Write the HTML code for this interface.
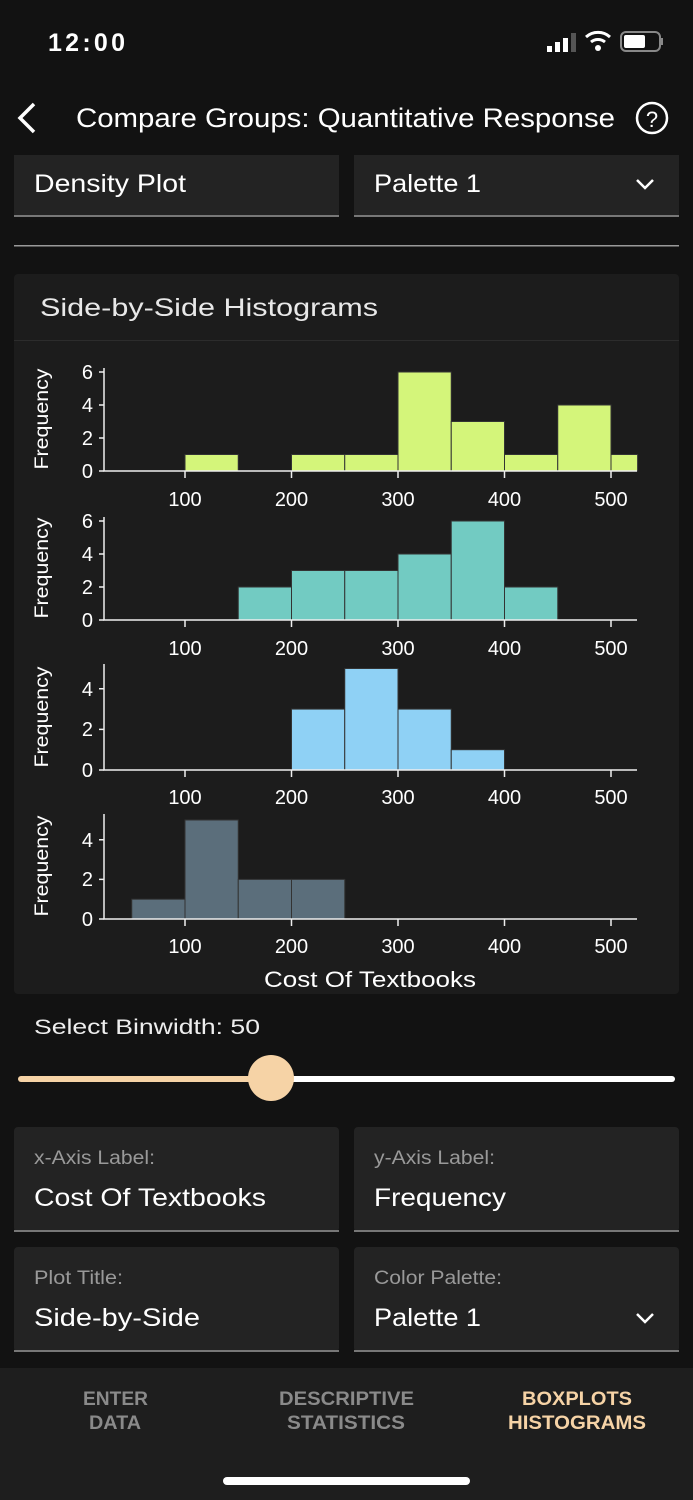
<!DOCTYPE html>
<html><head><meta charset="utf-8"><style>
html,body{margin:0;padding:0;background:#121212;}
svg{display:block;font-family:"Liberation Sans",sans-serif;}
</style></head><body>
<svg width="693" height="1500" viewBox="0 0 693 1500" xmlns="http://www.w3.org/2000/svg">
<rect width="693" height="1500" fill="#121212"/>
<!-- status bar -->
<text x="48" y="51" fill="#fff" font-size="25" font-weight="bold" textLength="77">12:00</text>
<rect x="547" y="46" width="5" height="6" fill="#fff"/><rect x="555" y="42" width="5" height="10" fill="#fff"/><rect x="563" y="38" width="5" height="14" fill="#fff"/><rect x="571" y="33" width="5" height="19" fill="#555"/>
<path d="M586 37 a18 18 0 0 1 24 0" stroke="#fff" stroke-width="3" fill="none"/><path d="M591 42 a11 11 0 0 1 14 0" stroke="#fff" stroke-width="3" fill="none"/><circle cx="598" cy="48" r="3" fill="#fff"/>
<rect x="621" y="32" width="39" height="19" rx="5" fill="none" stroke="#888" stroke-width="2"/><rect x="624" y="35" width="21" height="13" rx="2" fill="#fff"/><rect x="661" y="38" width="2" height="7" fill="#888"/>
<!-- header -->
<path d="M34 104 L20 118 L34 132" stroke="#fff" stroke-width="3.5" fill="none"/>
<text x="76" y="127" fill="#fff" font-size="27" textLength="539" lengthAdjust="spacingAndGlyphs">Compare Groups: Quantitative Response</text>
<circle cx="652" cy="118" r="15" fill="none" stroke="#fff" stroke-width="2.5"/><text x="652" y="127" fill="#fff" font-size="22" text-anchor="middle">?</text>
<!-- top fields -->
<rect x="14" y="155" width="325" height="62" fill="#232323"/><rect x="14" y="215" width="325" height="2" fill="#777"/>
<text x="34" y="192" fill="#fff" font-size="25" textLength="152" lengthAdjust="spacingAndGlyphs">Density Plot</text>
<rect x="354" y="155" width="325" height="62" fill="#232323"/><rect x="354" y="215" width="325" height="2" fill="#777"/>
<text x="374" y="192" fill="#fff" font-size="25" textLength="107" lengthAdjust="spacingAndGlyphs">Palette 1</text>
<path d="M637 180 L645 188 L653 180" stroke="#fff" stroke-width="2.5" fill="none"/>
<rect x="14" y="245" width="665" height="1.5" fill="#999"/>
<!-- card -->
<rect x="14" y="274" width="665" height="720" rx="4" fill="#1c1c1c"/>
<text x="40" y="316" fill="#e8e8e8" font-size="25" textLength="338" lengthAdjust="spacingAndGlyphs">Side-by-Side Histograms</text>
<rect x="14" y="340" width="665" height="1" fill="#2c2c2c"/>
<g font-size="20" fill="#fff">
<!-- Chart 1 -->
<g stroke="#333" stroke-width="1" fill="#d4f57a">
<rect x="185" y="454.5" width="53.25" height="16.5"/><rect x="291.5" y="454.5" width="53.25" height="16.5"/><rect x="344.75" y="454.5" width="53.25" height="16.5"/><rect x="398" y="372" width="53.25" height="99"/><rect x="451.25" y="421.5" width="53.25" height="49.5"/><rect x="504.5" y="454.5" width="53.25" height="16.5"/><rect x="557.75" y="405" width="53.25" height="66"/><rect x="611" y="454.5" width="26.6" height="16.5"/>
</g>
<g stroke="#eee" stroke-width="1.5" fill="none"><path d="M104 368 V471 H637"/><path d="M99 471H104M99 438H104M99 405H104M99 372H104"/><path d="M185 471v7M291.5 471v7M398 471v7M504.5 471v7M611 471v7"/></g>
<g text-anchor="end"><text x="93" y="478">0</text><text x="93" y="445">2</text><text x="93" y="412">4</text><text x="93" y="379">6</text></g>
<g text-anchor="middle"><text x="185" y="506">100</text><text x="291.5" y="506">200</text><text x="398" y="506">300</text><text x="504.5" y="506">400</text><text x="611" y="506">500</text></g>
<text transform="translate(48,419) rotate(-90)" text-anchor="middle" font-size="19" textLength="101" lengthAdjust="spacingAndGlyphs">Frequency</text>
<!-- Chart 2 -->
<g stroke="#333" stroke-width="1" fill="#72cbc2">
<rect x="238.25" y="587" width="53.25" height="33"/><rect x="291.5" y="570.5" width="53.25" height="49.5"/><rect x="344.75" y="570.5" width="53.25" height="49.5"/><rect x="398" y="554" width="53.25" height="66"/><rect x="451.25" y="521" width="53.25" height="99"/><rect x="504.5" y="587" width="53.25" height="33"/>
</g>
<g stroke="#eee" stroke-width="1.5" fill="none"><path d="M104 517 V620 H637"/><path d="M99 620H104M99 587H104M99 554H104M99 521H104"/><path d="M185 620v7M291.5 620v7M398 620v7M504.5 620v7M611 620v7"/></g>
<g text-anchor="end"><text x="93" y="627">0</text><text x="93" y="594">2</text><text x="93" y="561">4</text><text x="93" y="528">6</text></g>
<g text-anchor="middle"><text x="185" y="655">100</text><text x="291.5" y="655">200</text><text x="398" y="655">300</text><text x="504.5" y="655">400</text><text x="611" y="655">500</text></g>
<text transform="translate(48,568) rotate(-90)" text-anchor="middle" font-size="19" textLength="101" lengthAdjust="spacingAndGlyphs">Frequency</text>
<!-- Chart 3 -->
<g stroke="#333" stroke-width="1" fill="#8fd1f5">
<rect x="291.5" y="709.1" width="53.25" height="60.9"/><rect x="344.75" y="668.5" width="53.25" height="101.5"/><rect x="398" y="709.1" width="53.25" height="60.9"/><rect x="451.25" y="749.7" width="53.25" height="20.3"/>
</g>
<g stroke="#eee" stroke-width="1.5" fill="none"><path d="M104 664 V770 H637"/><path d="M99 770H104M99 729.4H104M99 688.8H104"/><path d="M185 770v7M291.5 770v7M398 770v7M504.5 770v7M611 770v7"/></g>
<g text-anchor="end"><text x="93" y="777">0</text><text x="93" y="736">2</text><text x="93" y="696">4</text></g>
<g text-anchor="middle"><text x="185" y="804">100</text><text x="291.5" y="804">200</text><text x="398" y="804">300</text><text x="504.5" y="804">400</text><text x="611" y="804">500</text></g>
<text transform="translate(48,717) rotate(-90)" text-anchor="middle" font-size="19" textLength="101" lengthAdjust="spacingAndGlyphs">Frequency</text>
<!-- Chart 4 -->
<g stroke="#333" stroke-width="1" fill="#5b6e7b">
<rect x="131.75" y="899.2" width="53.25" height="19.8"/><rect x="185" y="820" width="53.25" height="99"/><rect x="238.25" y="879.4" width="53.25" height="39.6"/><rect x="291.5" y="879.4" width="53.25" height="39.6"/>
</g>
<g stroke="#eee" stroke-width="1.5" fill="none"><path d="M104 814 V919 H637"/><path d="M99 919H104M99 879.4H104M99 839.8H104"/><path d="M185 919v7M291.5 919v7M398 919v7M504.5 919v7M611 919v7"/></g>
<g text-anchor="end"><text x="93" y="926">0</text><text x="93" y="886">2</text><text x="93" y="847">4</text></g>
<g text-anchor="middle"><text x="185" y="953">100</text><text x="291.5" y="953">200</text><text x="398" y="953">300</text><text x="504.5" y="953">400</text><text x="611" y="953">500</text></g>
<text transform="translate(48,866) rotate(-90)" text-anchor="middle" font-size="19" textLength="101" lengthAdjust="spacingAndGlyphs">Frequency</text>
<text x="264" y="987" font-size="22" textLength="212" lengthAdjust="spacingAndGlyphs">Cost Of Textbooks</text>
</g>
<!-- slider -->
<text x="34" y="1034" fill="#eee" font-size="21" textLength="226" lengthAdjust="spacingAndGlyphs">Select Binwidth: 50</text>
<rect x="18" y="1076" width="254" height="6" rx="3" fill="#f6d3a6"/>
<rect x="272" y="1076" width="403" height="6" rx="3" fill="#fff"/>
<ellipse cx="271" cy="1078" rx="23" ry="23" fill="#f6d3a6"/>
<!-- fields -->
<rect x="14" y="1127" width="325" height="105" rx="4" fill="#232323"/><rect x="14" y="1230" width="325" height="2" fill="#777"/>
<text x="34" y="1164" fill="#999" font-size="19" textLength="121" lengthAdjust="spacingAndGlyphs">x-Axis Label:</text><text x="34" y="1206" fill="#fff" font-size="25" textLength="232" lengthAdjust="spacingAndGlyphs">Cost Of Textbooks</text>
<rect x="354" y="1127" width="325" height="105" rx="4" fill="#232323"/><rect x="354" y="1230" width="325" height="2" fill="#777"/>
<text x="374" y="1164" fill="#999" font-size="19" textLength="121" lengthAdjust="spacingAndGlyphs">y-Axis Label:</text><text x="374" y="1206" fill="#fff" font-size="25" textLength="132" lengthAdjust="spacingAndGlyphs">Frequency</text>
<rect x="14" y="1247" width="325" height="105" rx="4" fill="#232323"/><rect x="14" y="1350" width="325" height="2" fill="#777"/>
<text x="34" y="1284" fill="#999" font-size="19" textLength="89" lengthAdjust="spacingAndGlyphs">Plot Title:</text><text x="34" y="1326" fill="#fff" font-size="25" textLength="166" lengthAdjust="spacingAndGlyphs">Side-by-Side</text>
<rect x="354" y="1247" width="325" height="105" rx="4" fill="#232323"/><rect x="354" y="1350" width="325" height="2" fill="#777"/>
<text x="374" y="1284" fill="#999" font-size="19" textLength="128" lengthAdjust="spacingAndGlyphs">Color Palette:</text><text x="374" y="1326" fill="#fff" font-size="25" textLength="107" lengthAdjust="spacingAndGlyphs">Palette 1</text>
<path d="M637 1314 L645 1322 L653 1314" stroke="#fff" stroke-width="2.5" fill="none"/>
<!-- tab bar -->
<rect x="0" y="1368" width="693" height="132" fill="#1e1e1e"/>
<g font-size="19" font-weight="bold" text-anchor="middle" lengthAdjust="spacingAndGlyphs">
<text x="115.5" y="1405" fill="#8a8a8a" textLength="65" lengthAdjust="spacingAndGlyphs">ENTER</text><text x="115" y="1429" fill="#8a8a8a" textLength="52" lengthAdjust="spacingAndGlyphs">DATA</text>
<text x="346.5" y="1405" fill="#8a8a8a" textLength="135" lengthAdjust="spacingAndGlyphs">DESCRIPTIVE</text><text x="346" y="1429" fill="#8a8a8a" textLength="118" lengthAdjust="spacingAndGlyphs">STATISTICS</text>
<text x="577" y="1405" fill="#f6d3a6" textLength="110" lengthAdjust="spacingAndGlyphs">BOXPLOTS</text><text x="577" y="1429" fill="#f6d3a6" textLength="138" lengthAdjust="spacingAndGlyphs">HISTOGRAMS</text>
</g>
<rect x="223" y="1477" width="247" height="8" rx="4" fill="#fff"/>
</svg>
</body></html>
